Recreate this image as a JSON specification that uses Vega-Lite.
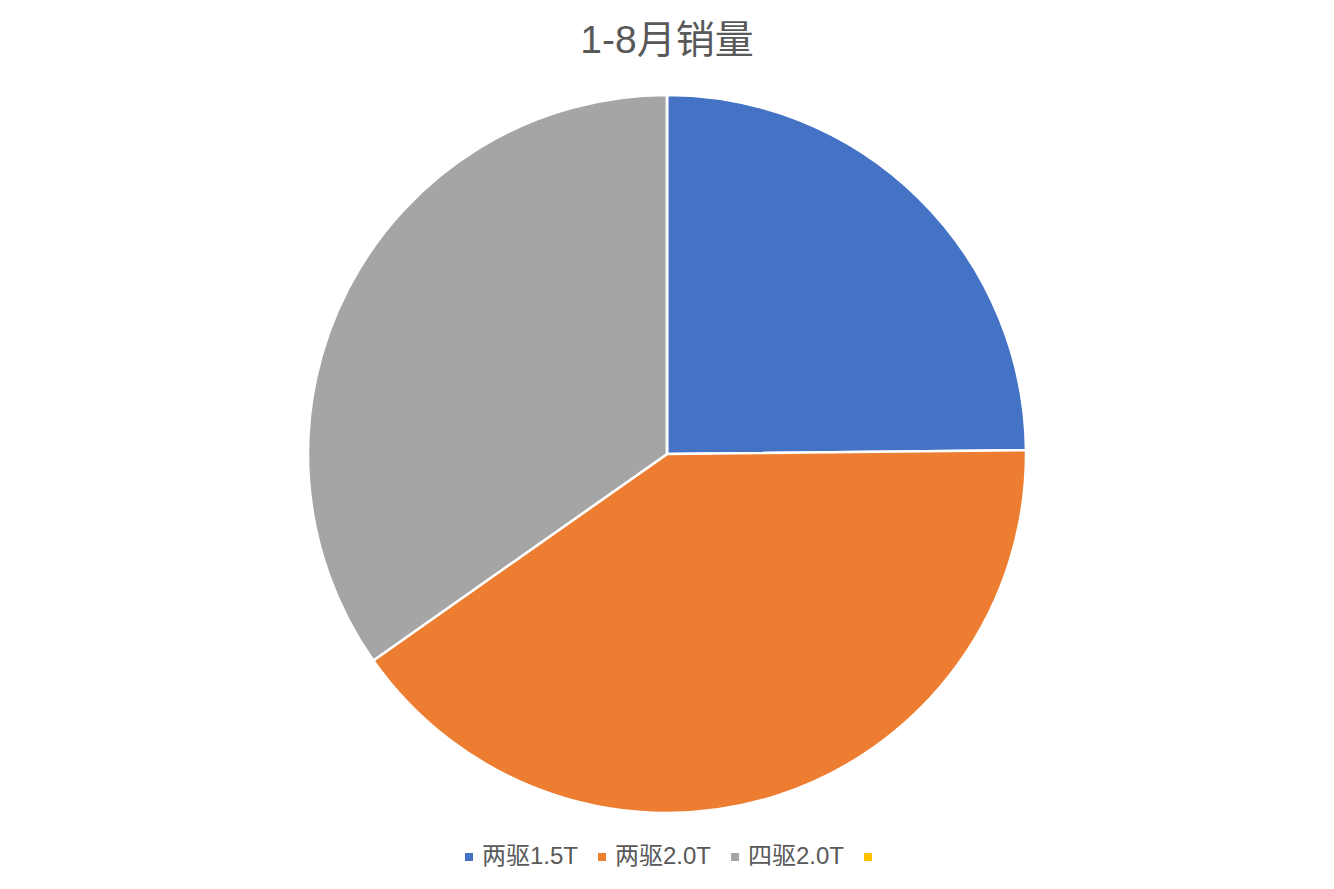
{
  "$schema": "https://vega.github.io/schema/vega-lite/v6.json",
  "autosize": "none",
  "padding": 0,
  "width": 1334,
  "height": 908,
  "background": "white",
  "title": {
    "text": "1-8月销量",
    "font": "Liberation Sans, Noto Sans CJK SC",
    "fontSize": 39,
    "fontWeight": "normal",
    "color": "#595959",
    "anchor": "middle",
    "offset": -61
  },
  "data": {
    "values": [
      {"category": "两驱1.5T", "value": 2483, "idx": 1},
      {"category": "两驱2.0T", "value": 4042, "idx": 2},
      {"category": "四驱2.0T", "value": 3475, "idx": 3},
      {"category": "", "value": 0, "idx": 4}
    ]
  },
  "mark": {
    "type": "arc",
    "outerRadius": 359,
    "stroke": "white",
    "strokeWidth": 2.5
  },
  "encoding": {
    "theta": {"field": "value", "type": "quantitative", "stack": true},
    "order": {"field": "idx", "type": "quantitative"},
    "color": {
      "field": "category",
      "type": "nominal",
      "scale": {
        "domain": ["两驱1.5T", "两驱2.0T", "四驱2.0T", ""],
        "range": ["#4472C4", "#ED7D31", "#A5A5A5", "#FFC000"]
      },
      "legend": {
        "title": null,
        "orient": "none",
        "direction": "horizontal",
        "legendX": 457,
        "legendY": 845,
        "padding": 0,
        "symbolType": "square",
        "symbolSize": 64,
        "symbolStrokeWidth": 0,
        "labelFont": "Liberation Sans, Noto Sans CJK SC",
        "labelFontSize": 24,
        "labelColor": "#595959",
        "labelOffset": 1,
        "columnPadding": 11
      }
    }
  },
  "config": {
    "view": {"stroke": null}
  }
}
